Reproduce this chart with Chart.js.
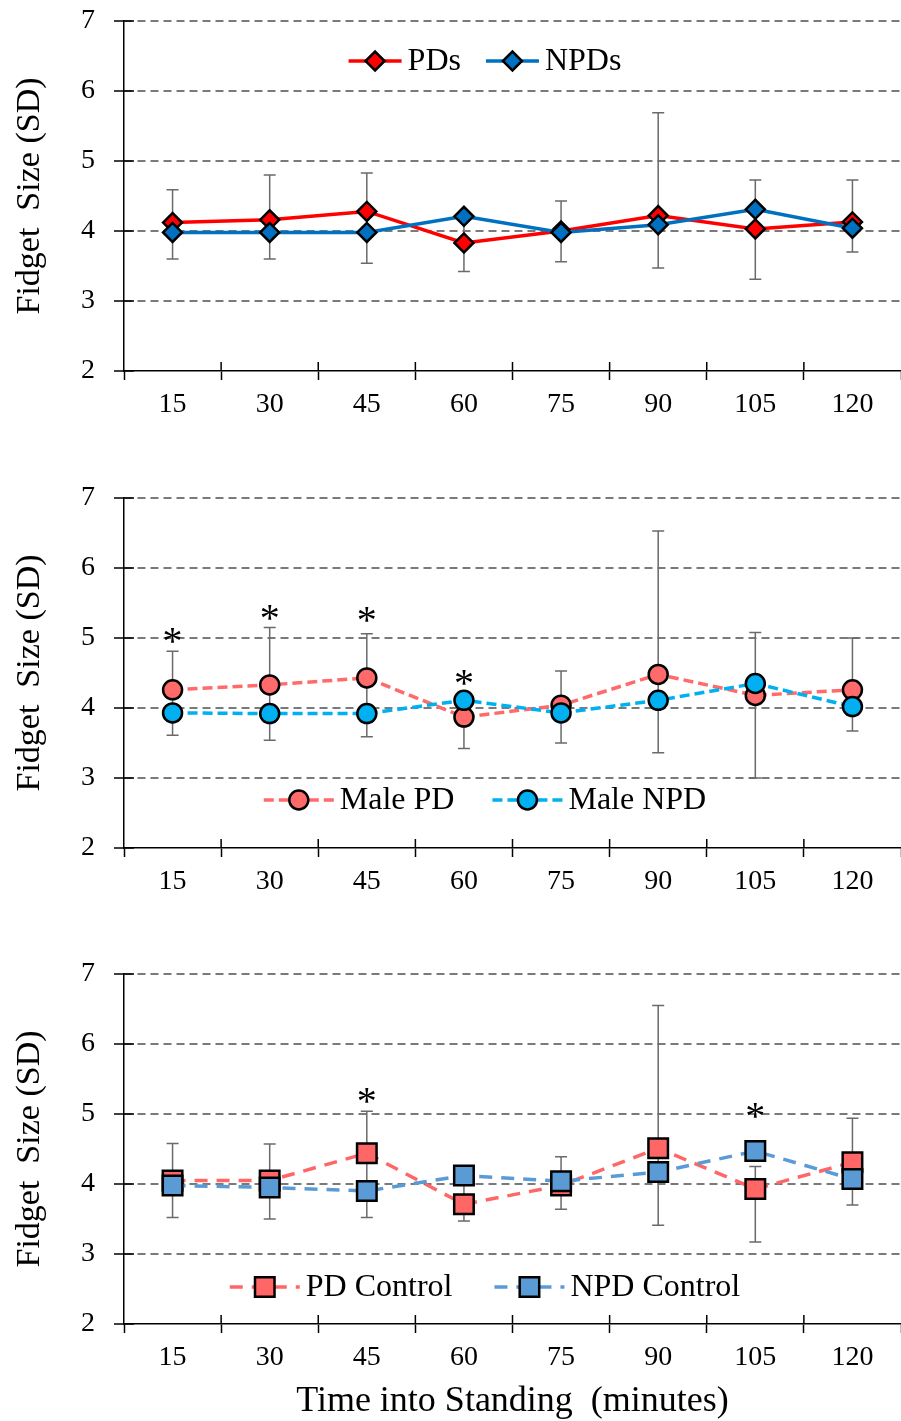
<!DOCTYPE html>
<html>
<head>
<meta charset="utf-8">
<script src="https://cdn.jsdelivr.net/npm/chart.js@4.4.1/dist/chart.umd.min.js"></script>
<style>
  body { margin: 0; background: #fff; }
  canvas { position: absolute; left: 0; }
</style>
</head>
<body>
<canvas id="chart1" width="901" height="477" style="top:0"></canvas>
<canvas id="chart2" width="901" height="477" style="top:477px"></canvas>
<canvas id="chart3" width="901" height="468" style="top:953px"></canvas>
<script>
const minutes = ['15', '30', '45', '60', '75', '90', '105', '120'];
const yTicks = [2, 3, 4, 5, 6, 7];

// top panel
const pds = [4.12, 4.16, 4.28, 3.83, 4.00, 4.22, 4.03, 4.13];
const npds = [3.98, 3.98, 3.98, 4.21, 3.98, 4.09, 4.31, 4.04];
const errLow1 = [3.60, 3.60, 3.54, 3.42, 3.56, 3.47, 3.31, 3.70];
const errHigh1 = [4.59, 4.80, 4.83, 4.25, 4.43, 5.69, 4.73, 4.73];
const stars1 = [null, null, null, null, null, null, null, null];

// middle panel
const malePd = [4.26, 4.33, 4.43, 3.87, 4.04, 4.48, 4.18, 4.26];
const maleNpd = [3.93, 3.92, 3.92, 4.11, 3.93, 4.11, 4.35, 4.02];
const errLow2 = [3.61, 3.54, 3.59, 3.42, 3.50, 3.36, 3.00, 3.67];
const errHigh2 = [4.81, 5.15, 5.06, 4.20, 4.53, 6.53, 5.08, 5.00];
const stars2 = [5.04, 5.37, 5.33, 4.44, null, null, null, null];

// bottom panel
const pdControl = [4.05, 4.05, 4.44, 3.71, 3.98, 4.51, 3.93, 4.31];
const npdControl = [3.98, 3.95, 3.90, 4.12, 4.04, 4.17, 4.47, 4.07];
const errLow3 = [3.52, 3.50, 3.52, 3.47, 3.64, 3.41, 3.17, 3.70];
const errHigh3 = [4.58, 4.57, 5.04, 4.20, 4.39, 6.55, 4.25, 4.94];
const stars3 = [null, null, 5.27, null, null, null, 5.05, null];

const FONT = '"Liberation Serif", "Times New Roman", serif';
Chart.defaults.font.family = FONT;
Chart.defaults.color = '#000';

function marker(ctx, style, r, x, y) {
  ctx.beginPath();
  if (style === 'circle') {
    ctx.arc(x, y, r, 0, Math.PI * 2);
  } else if (style === 'rectRot') {
    ctx.moveTo(x - r, y); ctx.lineTo(x, y - r); ctx.lineTo(x + r, y); ctx.lineTo(x, y + r);
    ctx.closePath();
  } else {
    const s = r * Math.SQRT1_2;
    ctx.rect(x - s, y - s, 2 * s, 2 * s);
  }
  ctx.fill();
  ctx.stroke();
}

function series(label, data, color, style, radius, dash, order) {
  return {
    label, data, order,
    borderColor: color, backgroundColor: color,
    borderWidth: 3.5, borderDash: dash, tension: 0,
    pointStyle: style, pointRadius: radius, pointHoverRadius: radius,
    pointBackgroundColor: color, pointBorderColor: '#000', pointBorderWidth: 2.5
  };
}

// no extra room for the edge labels, the plot area is fixed by hand
function noPad(s) {
  s.paddingTop = 0; s.paddingBottom = 0; s.paddingLeft = 0; s.paddingRight = 0;
}

// error bars, crossing ticks, asterisks and the in-plot legend
function extras(p) {
  return {
    id: 'extras',
    beforeDatasetsDraw(chart) {
      const { ctx, scales: { x, y }, chartArea } = chart;
      ctx.save();
      ctx.strokeStyle = '#000';
      ctx.lineWidth = 1.5;
      ctx.beginPath();
      for (let i = 1; i < minutes.length; i++) {
        const px = x.getPixelForValue(i - 0.5);
        ctx.moveTo(px, chartArea.bottom);
        ctx.lineTo(px, chartArea.bottom - 9);
      }
      yTicks.forEach(v => {
        const py = y.getPixelForValue(v);
        ctx.moveTo(chartArea.left, py);
        ctx.lineTo(chartArea.left + 10, py);
      });
      ctx.stroke();

      ctx.strokeStyle = '#6a6a6a';
      ctx.lineWidth = 1.5;
      ctx.beginPath();
      p.errLow.forEach((lo, i) => {
        const px = x.getPixelForValue(i);
        const y1 = y.getPixelForValue(lo);
        const y2 = y.getPixelForValue(p.errHigh[i]);
        ctx.moveTo(px, y1); ctx.lineTo(px, y2);
        ctx.moveTo(px - 6, y1); ctx.lineTo(px + 6, y1);
        ctx.moveTo(px - 6, y2); ctx.lineTo(px + 6, y2);
      });
      ctx.stroke();
      ctx.restore();
    },
    afterDatasetsDraw(chart) {
      const { ctx, scales: { x, y } } = chart;
      ctx.save();
      ctx.fillStyle = '#000';
      ctx.font = '40px ' + FONT;
      ctx.textAlign = 'center';
      ctx.textBaseline = 'alphabetic';
      const m = ctx.measureText('*');
      p.stars.forEach((s, i) => {
        if (s === null) return;
        const py = y.getPixelForValue(s);
        ctx.fillText('*', x.getPixelForValue(i), py + (m.actualBoundingBoxAscent - m.actualBoundingBoxDescent) / 2);
      });

      const lg = p.legend;
      ctx.font = '32px ' + FONT;
      ctx.textAlign = 'left';
      ctx.textBaseline = 'middle';
      const items = chart.data.datasets.map(ds => ({ ds, w: ctx.measureText(ds.label).width }));
      let total = lg.gap * (items.length - 1);
      items.forEach(it => { total += lg.line + 6 + it.w; });
      let cx = lg.x - total / 2;
      items.forEach(({ ds, w }) => {
        ctx.strokeStyle = ds.borderColor;
        ctx.lineWidth = ds.borderWidth;
        ctx.setLineDash(ds.borderDash || []);
        ctx.beginPath();
        ctx.moveTo(cx, lg.y);
        ctx.lineTo(cx + lg.line, lg.y);
        ctx.stroke();
        ctx.setLineDash([]);
        ctx.fillStyle = ds.pointBackgroundColor;
        ctx.strokeStyle = ds.pointBorderColor;
        ctx.lineWidth = ds.pointBorderWidth;
        marker(ctx, ds.pointStyle, ds.pointRadius, cx + lg.line / 2, lg.y);
        ctx.fillStyle = '#000';
        ctx.fillText(ds.label, cx + lg.line + 6, lg.y + 1);
        cx += lg.line + 6 + w + lg.gap;
      });
      ctx.restore();
    }
  };
}

function panel(id, datasets, p) {
  return new Chart(document.getElementById(id), {
    type: 'line',
    data: { labels: minutes, datasets },
    options: {
      responsive: false,
      animation: false,
      layout: { autoPadding: false, padding: { top: 21, right: 0, bottom: 0, left: 0 } },
      plugins: { legend: { display: false }, tooltip: { enabled: false } },
      scales: {
        x: {
          offset: true,
          grid: { offset: true, drawOnChartArea: false, tickLength: 9, tickColor: '#000', tickWidth: 1.5 },
          border: { color: '#000', width: 1.5 },
          ticks: { font: { size: 28 }, padding: 8, maxRotation: 0 },
          title: {
            display: !!p.xTitle,
            text: p.xTitle || '',
            font: { size: 36, lineHeight: 1 },
            padding: { top: 4, bottom: 1 }
          },
          afterFit: s => { s.height = p.height - 371; noPad(s); }
        },
        y: {
          min: yTicks[0],
          max: yTicks[yTicks.length - 1],
          ticks: { stepSize: 1, font: { size: 28 }, padding: 19 },
          grid: {
            color: c => (c.tick && c.tick.value === yTicks[0]) ? 'rgba(0,0,0,0)' : '#7a7a7a',
            lineWidth: 2, tickLength: 10, tickColor: '#000', tickWidth: 1.5
          },
          border: { color: '#000', width: 1.5, dash: [8, 5] },
          title: {
            display: true,
            text: 'Fidget  Size (SD)',
            font: { size: 34 },
            padding: { top: 10, bottom: 0 }
          },
          afterFit: s => { s.width = 124; noPad(s); }
        }
      }
    },
    plugins: [extras(p)]
  });
}

panel('chart1', [
  series('PDs', pds, '#FF0000', 'rectRot', 9.5, [], 1),
  series('NPDs', npds, '#0070C0', 'rectRot', 9.5, [], 0)
], {
  height: 477, errLow: errLow1, errHigh: errHigh1, stars: stars1,
  legend: { x: 485, y: 61, line: 53, gap: 25 }
});

panel('chart2', [
  series('Male PD', malePd, '#FF6B6B', 'circle', 9.5, [10, 5], 1),
  series('Male NPD', maleNpd, '#00B0F0', 'circle', 9.5, [10, 5], 0)
], {
  height: 477, errLow: errLow2, errHigh: errHigh2, stars: stars2,
  legend: { x: 485, y: 323, line: 70, gap: 38 }
});

panel('chart3', [
  series('PD Control', pdControl, '#FF6666', 'rect', 13.8, [13, 9], 1),
  series('NPD Control', npdControl, '#5B9BD5', 'rect', 13.8, [13, 9], 0)
], {
  height: 468, errLow: errLow3, errHigh: errHigh3, stars: stars3,
  legend: { x: 485, y: 334, line: 70, gap: 42 },
  xTitle: 'Time into Standing  (minutes)'
});
</script>
</body>
</html>
